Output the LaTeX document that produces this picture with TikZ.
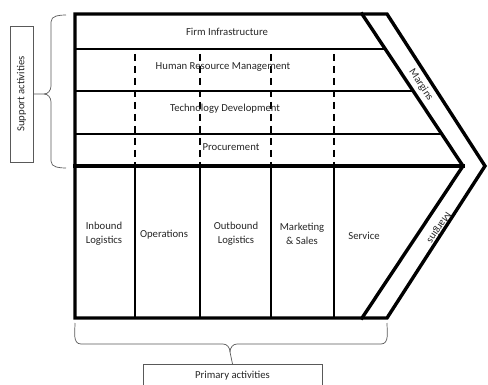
\documentclass[tikz,border=0pt]{standalone}
\usepackage{fontspec}
\setmainfont{Carlito}
\usetikzlibrary{positioning}
\tikzset{
    x=1pt, y=-1pt, % coordinate come pixel
    bordo/.style={line width=3.4pt, line join=miter, line cap=rect}, % linee spesse della catena
    riga/.style={line width=1.2pt}, % separatori sottili
    tratteggio/.style={line width=1.5pt, dash pattern=on 7pt off 5pt}, % divisioni delle attivita di supporto
    testo/.style={font=\fontsize{10.7}{14}\selectfont, text=black!85, align=center},
    graffa/.style={line width=0.7pt, draw=black!65},
    cornice/.style={draw=black!65, line width=0.7pt, font=\fontsize{10.7}{12}\selectfont, text=black!85},
}

\begin{document}
\begin{tikzpicture}
        \useasboundingbox (0,0) rectangle (488,385);

        % Contorno della catena del valore
        \coordinate (nw) at (75,14);
        \coordinate (ne) at (387,14);
        \coordinate (tip) at (485,166);
        \coordinate (se) at (387,318);
        \coordinate (sw) at (75,318);
        \draw[bordo] (nw) -- (ne) -- (tip) -- (se) -- (sw) -- cycle;

        % Fascia dei margini
        \coordinate (mn) at (362,14);
        \coordinate (mtip) at (463,166);
        \coordinate (ms) at (362,318);
        \draw[bordo] (mn) -- (mtip) -- (ms);
        \coordinate (mid) at (75,166);
        \draw[bordo] (mid) -- (mtip);

        % Righe delle attivita di supporto
        \foreach \y/\x in {49/385.3, 91/413.2, 134/441.7}
            \draw[riga] (75,\y) -- (\x,\y);

        % Colonne delle attivita primarie (tratteggiate sopra)
        \foreach \x in {135,200,271,334} {
            \draw[riga] (\x,166) -- (\x,318);
            \draw[tratteggio] (\x,54) -- (\x,166);
        }

        % Attivita di supporto
        \node[testo] (firm) at (227,32) {Firm Infrastructure};
        \node[testo] (hrm) at (223,67) {Human Resource Management};
        \node[testo] (tech) at (225,109) {Technology Development};
        \node[testo] (proc) at (231,147) {Procurement};

        % Attivita primarie
        \node[testo] (inbound) at (104,234) {Inbound\\Logistics};
        \node[testo] (operations) at (164,235) {Operations};
        \node[testo] (outbound) at (236,234) {Outbound\\Logistics};
        \node[testo] (marketing) at (302,234) {Marketing\\\& Sales};
        \node[testo] (service) at (364,236) {Service};

        % Margini
        \node[testo, rotate=-56.4] (margtop) at (421,85) {Margins};
        \node[testo, rotate=-123.6] (margbot) at (439,228) {Margins};

        % Etichette laterali
        \node[cornice, rotate=90, minimum width=136pt, minimum height=23pt, inner sep=0pt] (support) at (21.5,94) {Support activities};
        \node[cornice, anchor=north, minimum width=179pt, text height=11pt, text depth=24pt, inner ysep=3pt] (primary) at (232.5,364) {Primary activities};

        % Graffa di sinistra
        \draw[graffa] (66,15) to[out=180,in=90] (51,22) -- (51,86) to[out=-90,in=0] (44,94) -- (support.south);
        \draw[graffa] (66,168) to[out=180,in=-90] (51,161) -- (51,102) to[out=90,in=0] (44,94);

        % Graffa in basso
        \draw[graffa] (75,323) to[out=-90,in=180] (81,344) -- (223,344) to[out=0,in=90] (230,352) -- (primary.north);
        \draw[graffa] (387,323) to[out=-90,in=0] (381,344) -- (237,344) to[out=180,in=90] (230,352);
    \end{tikzpicture}
\end{document}
